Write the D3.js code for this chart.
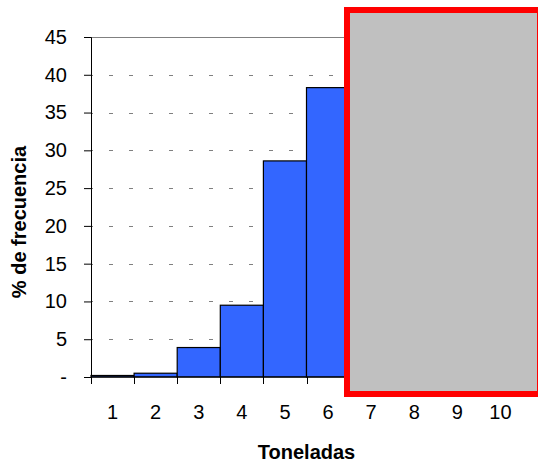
<!DOCTYPE html>
<html>
<head>
<meta charset="utf-8">
<script src="https://cdn.jsdelivr.net/npm/d3@7"></script>
<style>
  html, body { margin: 0; padding: 0; background: #fff; }
  svg { display: block; font-family: "Liberation Sans", Arial, sans-serif; }
</style>
</head>
<body>
<script>
// ---- data ----
const categories = ["1", "2", "3", "4", "5", "6", "7", "8", "9", "10"];
const visibleCategories = ["1", "2", "3", "4", "5", "6"];
const frequency = [0.2, 0.5, 3.9, 9.5, 28.6, 38.3];
const yTicks = [0, 5, 10, 15, 20, 25, 30, 35, 40, 45];
const yTickLabels = ["-", "5", "10", "15", "20", "25", "30", "35", "40", "45"];
const xTitle = "Toneladas";
const yTitle = "% de frecuencia";

const W = 538, H = 466;
const margin = { left: 91, right: 16, top: 37, bottom: 89 };
const innerW = W - margin.left - margin.right;
const innerH = H - margin.top - margin.bottom;

const svg = d3.select("body").append("svg").attr("width", W).attr("height", H);
const g = svg.append("g").attr("transform", `translate(${margin.left},${margin.top})`);

const x = d3.scaleBand().domain(categories).range([0, innerW]).padding(0);
const y = d3.scaleLinear().domain([0, 45]).range([innerH, 0]);

// gridlines
g.selectAll("line.grid").data(yTicks.filter(t => t > 0 && t < 45)).join("line")
  .attr("class", "grid")
  .attr("x1", 0).attr("x2", innerW)
  .attr("y1", d => Math.round(y(d)) + 0.5).attr("y2", d => Math.round(y(d)) + 0.5)
  .attr("stroke", "#808080").attr("stroke-width", 1)
  .attr("stroke-dasharray", "4,16").attr("stroke-dashoffset", -18);
// top line
g.append("line")
  .attr("x1", 0).attr("x2", innerW)
  .attr("y1", Math.round(y(45)) + 0.5).attr("y2", Math.round(y(45)) + 0.5)
  .attr("stroke", "#808080").attr("stroke-width", 1);

// bars
g.selectAll("rect.bar").data(frequency).join("rect")
  .attr("class", "bar")
  .attr("x", (d, i) => x(visibleCategories[i]))
  .attr("y", d => y(d))
  .attr("width", x.bandwidth())
  .attr("height", d => y(0) - y(d))
  .attr("fill", "#3366FF").attr("stroke", "#000").attr("stroke-width", 1.2);

// y axis
const yAxis = d3.axisLeft(y).tickValues(yTicks).tickSize(7).tickPadding(17)
  .tickFormat((d, i) => yTickLabels[i]);
const ya = g.append("g").call(yAxis);
ya.select(".domain").attr("stroke", "#000");
ya.selectAll(".tick line").attr("stroke", "#000");
ya.selectAll("text").attr("font-size", 20).attr("fill", "#000")
  .attr("font-family", "'Liberation Sans', Arial, sans-serif");

// x axis (ticks at band boundaries)
const xa = g.append("g").attr("transform", `translate(0,${innerH})`);
xa.append("line").attr("x1", 0).attr("x2", innerW).attr("y1", 0).attr("y2", 0).attr("stroke", "#000");
const bounds = categories.map(c => x(c)).concat([innerW]);
xa.selectAll("line.tk").data(bounds).join("line").attr("class", "tk")
  .attr("x1", d => Math.round(d) + 0.5).attr("x2", d => Math.round(d) + 0.5)
  .attr("y1", 0).attr("y2", 7).attr("stroke", "#000");
xa.selectAll("text").data(categories).join("text")
  .attr("x", d => x(d) + x.bandwidth() / 2)
  .attr("y", 42)
  .attr("text-anchor", "middle")
  .attr("font-size", 20).attr("fill", "#000")
  .text(d => d);

// titles
svg.append("text")
  .attr("x", margin.left + innerW / 2).attr("y", 459)
  .attr("text-anchor", "middle").attr("font-size", 20).attr("font-weight", "bold")
  .text(xTitle);
svg.append("text")
  .attr("transform", `translate(26,222) rotate(-90)`)
  .attr("text-anchor", "middle").attr("font-size", 20).attr("font-weight", "bold")
  .text(yTitle);

// overlay box
svg.append("rect")
  .attr("x", 347).attr("y", 10).attr("width", 193).attr("height", 384)
  .attr("fill", "#C0C0C0").attr("stroke", "#FF0000").attr("stroke-width", 6);
</script>
</body>
</html>
